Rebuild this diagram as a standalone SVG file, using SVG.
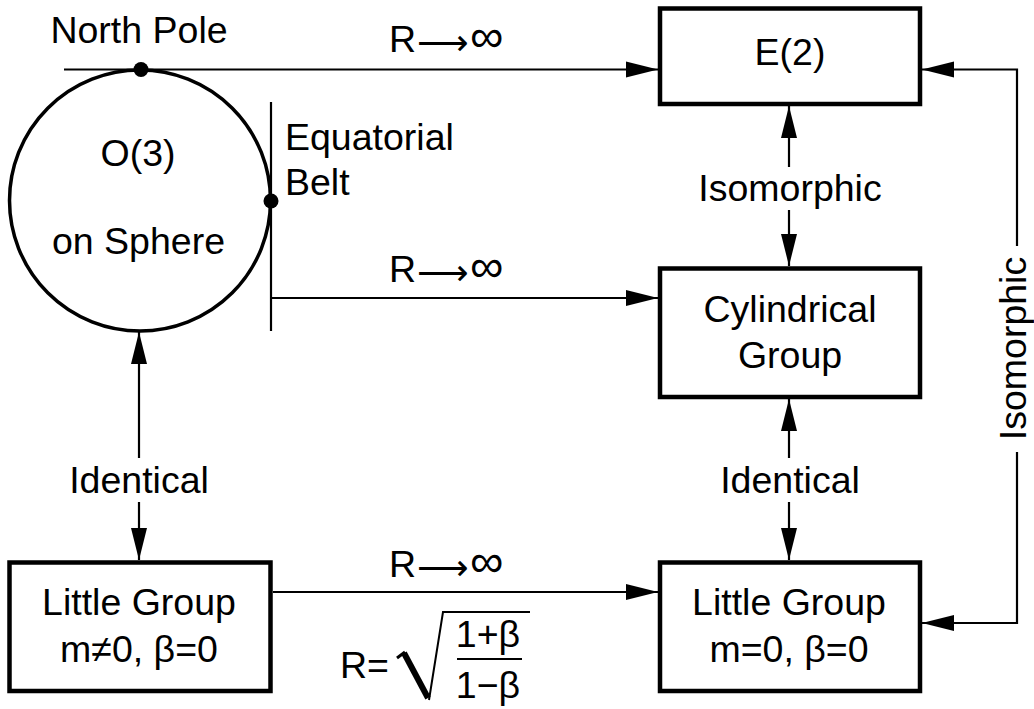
<svg xmlns="http://www.w3.org/2000/svg" width="1034" height="709" viewBox="0 0 1034 709">
<style>
text{font-family:"Liberation Sans",Arial,Helvetica,sans-serif;font-size:37.5px;fill:#000}
.c{text-anchor:middle}
.box{fill:#fff;stroke:#000;stroke-width:4.5}
.ln{fill:none;stroke:#000;stroke-width:2.2}
.ar{fill:none;stroke:#000;stroke-width:2.2;marker-end:url(#ah)}
.arr{font-family:"DejaVu Sans",sans-serif;font-size:36px}
.inf{font-size:47px}
</style>
<defs>
<marker id="ah" markerUnits="userSpaceOnUse" markerWidth="32" markerHeight="16" refX="32" refY="8" orient="auto" overflow="visible">
<path d="M0,0 L32,8 L0,16 Z" fill="#000"/>
</marker>
</defs>
<rect width="1034" height="709" fill="#fff"/>

<g id="connectors">
<path class="ar" d="M64,69.5 H658"/>
<path class="ln" d="M271,102 V331"/>
<path class="ar" d="M271,298 H658"/>
<path class="ar" d="M273,592 H658"/>
<path class="ar" d="M789,167 V106"/>
<path class="ar" d="M789,210 V266"/>
<path class="ar" d="M789,458 V399"/>
<path class="ar" d="M789,502 V560"/>
<path class="ar" d="M139,458 V332"/>
<path class="ar" d="M139,502 V560"/>
<path class="ar" d="M1017,246 V69.5 H922"/>
<path class="ar" d="M1017,452 V623 H922"/>
<text x="1026" y="348.5" class="c" transform="rotate(-90 1026 348.5)">Isomorphic</text>
<text x="790" y="201" class="c">Isomorphic</text>
<text x="790" y="493" class="c">Identical</text>
<text x="139" y="493" class="c">Identical</text>
<text y="52"><tspan x="389">R</tspan><tspan x="417" dy="3" class="arr">⟶</tspan><tspan x="470" dy="-3" class="inf">∞</tspan></text>
<text y="282"><tspan x="389">R</tspan><tspan x="417" dy="3" class="arr">⟶</tspan><tspan x="470" dy="-3" class="inf">∞</tspan></text>
<text y="577"><tspan x="389">R</tspan><tspan x="417" dy="3" class="arr">⟶</tspan><tspan x="470" dy="-3" class="inf">∞</tspan></text>
</g>

<g id="sphere">
<circle cx="140" cy="200.5" r="130.5" fill="none" stroke="#000" stroke-width="3.5"/>
<circle cx="141" cy="69.5" r="7.5" fill="#000"/>
<circle cx="271" cy="201" r="7.5" fill="#000"/>
<text x="139" y="43" class="c">North Pole</text>
<text x="138" y="166" class="c">O(3)</text>
<text x="138.5" y="254" class="c">on Sphere</text>
<text x="285" y="149.5">Equatorial</text>
<text x="285" y="195">Belt</text>
</g>

<g id="e2">
<rect class="box" x="660" y="8.5" width="260" height="95.5"/>
<text x="790" y="65" class="c">E(2)</text>
</g>

<g id="cylindrical">
<rect class="box" x="660" y="268.5" width="260" height="128.5"/>
<text x="790" y="322" class="c">Cylindrical</text>
<text x="790" y="368" class="c">Group</text>
</g>

<g id="little-massive">
<rect class="box" x="9.5" y="562.5" width="261" height="128.5"/>
<text x="139" y="615" class="c">Little Group</text>
<text x="139" y="662" class="c">m≠0, β=0</text>
</g>

<g id="little-massless">
<rect class="box" x="660" y="562.5" width="260" height="128.5"/>
<text x="789" y="615" class="c">Little Group</text>
<text x="789" y="662" class="c">m=0, β=0</text>
</g>

<g id="formula">
<text x="340" y="678">R=</text>
<path d="M397,658 L405,652" stroke="#000" stroke-width="3" fill="none"/>
<path d="M404,653 L428,698" stroke="#000" stroke-width="6" fill="none"/>
<path d="M429,700 L443,612 H530" stroke="#000" stroke-width="2" fill="none"/>
<text x="488" y="647" class="c">1+β</text>
<path d="M457,659 H522" stroke="#000" stroke-width="2.2" fill="none"/>
<text x="488" y="698" class="c">1−β</text>
</g>
</svg>
